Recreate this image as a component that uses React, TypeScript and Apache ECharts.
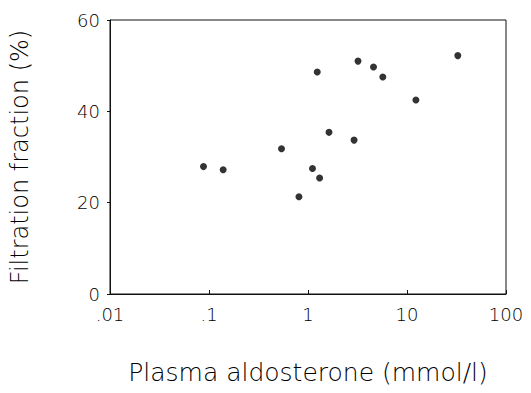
import React, { useEffect, useRef } from "react";
import * as echarts from "echarts";

const aldosterone = [0.088, 0.139, 0.54, 0.81, 1.11, 1.24, 1.31, 1.63, 2.92, 3.2, 4.59, 5.7, 12.3, 32.6];
const filtrationFraction = [27.9, 27.2, 31.8, 21.3, 27.5, 48.6, 25.4, 35.4, 33.7, 51.0, 49.7, 47.5, 42.5, 52.2];
const xTickLabels = [".01", ".1", "1", "10", "100"];
const yTickLabels = ["0", "20", "40", "60"];

const FONT = "DejaVu Sans";

export default function App() {
  const ref = useRef<HTMLDivElement>(null);
  useEffect(() => {
    if (!ref.current) return;
    const chart = echarts.init(ref.current, undefined, { renderer: "svg" });
    const points = aldosterone.map((x, i) => [x, filtrationFraction[i]]);
    chart.setOption({
      animation: false,
      backgroundColor: "#fff",
      grid: {
        left: 110,
        right: 25,
        top: 20,
        bottom: 99,
        show: true,
        borderColor: "#111",
        borderWidth: 1,
        containLabel: false,
        outerBoundsMode: "none",
      },
      xAxis: {
        type: "log",
        logBase: 10,
        min: 0.01,
        max: 100,
        name: "Plasma aldosterone (mmol/l)",
        nameLocation: "middle",
        nameGap: 66,
        nameTextStyle: { fontFamily: FONT, fontSize: 25, fontWeight: 200, color: "#000" },
        axisLine: { show: true, lineStyle: { color: "#111", width: 1 } },
        axisTick: { show: true, inside: true, length: 4, lineStyle: { color: "#111" } },
        minorTick: { show: false },
        splitLine: { show: false },
        axisLabel: {
          fontFamily: FONT,
          fontSize: 18,
          fontWeight: 200,
          color: "#000",
          margin: 11,
          formatter: (v: number) => {
            const k = Math.round(Math.log10(v)) + 2;
            return xTickLabels[k] ?? "";
          },
        },
      },
      yAxis: {
        type: "value",
        min: 0,
        max: 60,
        interval: 20,
        name: "Filtration fraction (%)",
        nameLocation: "middle",
        nameGap: 78,
        nameTextStyle: { fontFamily: FONT, fontSize: 24, fontWeight: 200, color: "#000" },
        axisLine: { show: true, lineStyle: { color: "#111", width: 1 } },
        axisTick: { show: true, inside: false, length: 3, lineStyle: { color: "#111" } },
        splitLine: { show: false },
        axisLabel: {
          fontFamily: FONT,
          fontSize: 18,
          fontWeight: 200,
          color: "#000",
          margin: 10,
          formatter: (v: number) => yTickLabels[Math.round(v / 20)] ?? "",
        },
      },
      series: [
        {
          type: "scatter",
          data: points,
          symbol: "circle",
          symbolSize: 7,
          itemStyle: { color: "#000" },
        },
      ],
    });
    return () => chart.dispose();
  }, []);
  return (
    <div
      ref={ref}
      style={{ position: "fixed", left: 0, top: 0, width: 531, height: 393, background: "#fff" }}
    />
  );
}
